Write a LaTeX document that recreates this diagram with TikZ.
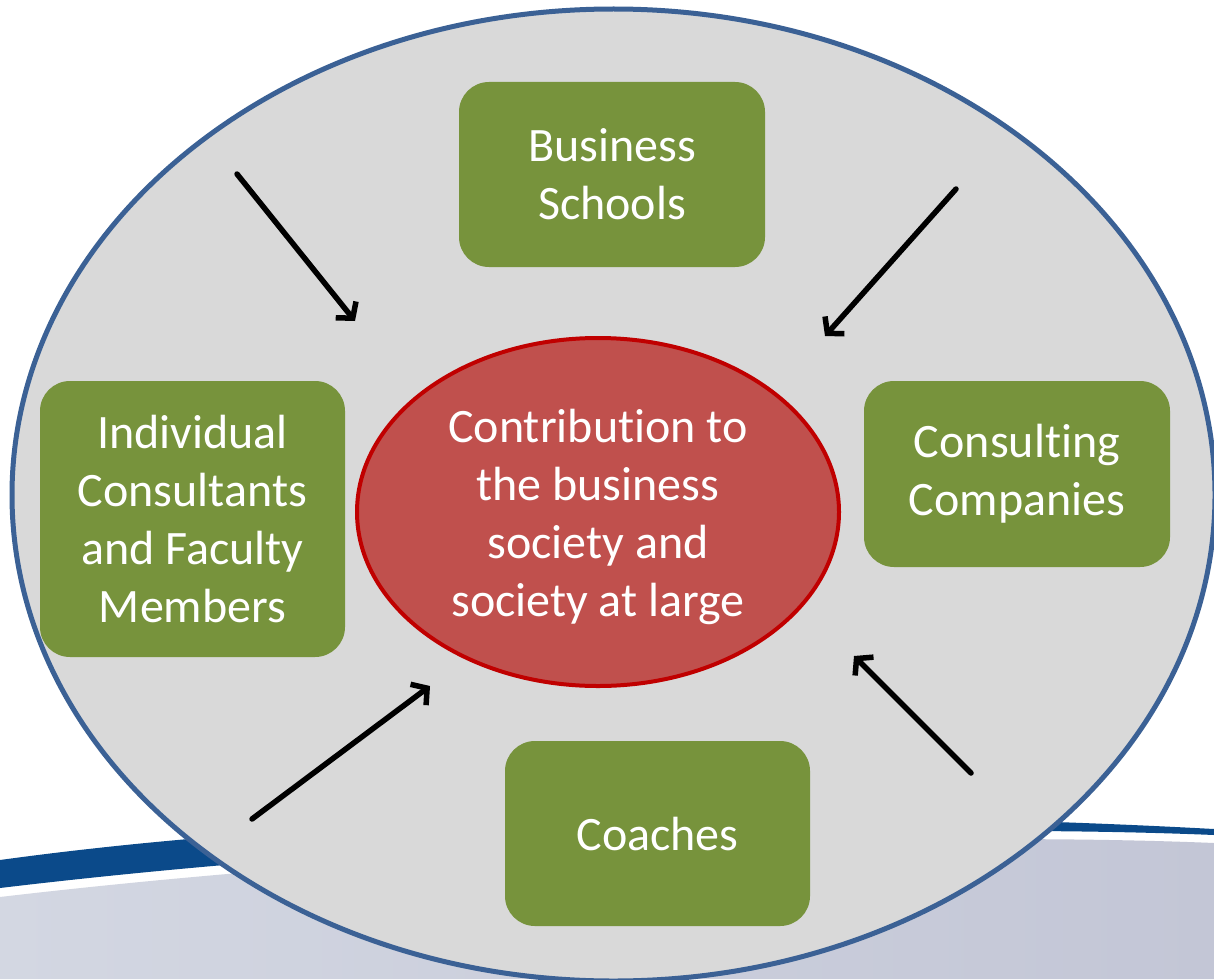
\documentclass[tikz,border=0pt]{standalone}
\usepackage{fontspec}
\setmainfont[Ligatures=NoCommon]{Carlito}
\usetikzlibrary{arrows.meta,shapes.geometric}
\definecolor{bgblue}{HTML}{0B4A8A}
\definecolor{bggrayL}{HTML}{D3D7E2}
\definecolor{bggrayR}{HTML}{C3C6D6}
\definecolor{outerfill}{HTML}{D9D9D9}
\definecolor{outerline}{HTML}{3B6195}
\definecolor{boxgreen}{HTML}{77933C}
\definecolor{redfill}{HTML}{C0504D}
\definecolor{redline}{HTML}{C00000}
\tikzset{
  greenbox/.style={draw=none, fill=boxgreen, rounded corners=30pt, align=center,
    text=white, font=\fontsize{48}{58}\selectfont, inner sep=0pt},
  flowarrow/.style={draw=black, line width=5.5pt, line cap=round,
    -{Straight Barb[length=11pt,width=26pt,line width=5.5pt]}},
}
\begin{document}
\begin{tikzpicture}[x=1pt,y=-1pt]
\useasboundingbox (0,0) rectangle (1214,979);
\clip (0,0) rectangle (1214,979);
\fill[white] (0,0) rectangle (1214,979);
% background swoosh
\shade[left color=bggrayL, right color=bggrayR]
  (0,897) .. controls (400,850) and (900,830) .. (1214,843) -- (1214,979) -- (0,979) -- cycle;
\fill[bgblue]
  (0,860) .. controls (400,805) and (900,812) .. (1214,829)
  -- (1214,835) .. controls (900,822) and (400,840) .. (0,888) -- cycle;
% outer ellipse
\node[ellipse, draw=outerline, line width=5pt, fill=outerfill,
  minimum width=1203pt, minimum height=972pt, inner sep=0pt] (outer) at (613.5,495) {};
% boxes
\node[greenbox, minimum width=306pt, minimum height=185pt] (bs) at (612,174.5) {Business\\Schools};
\node[greenbox, minimum width=305pt, minimum height=276pt] (ic) at (192.5,519) {Individual\\Consultants\\and Faculty\\Members};
\node[greenbox, minimum width=306pt, minimum height=186pt] (cc) at (1017,474) {Consulting\\Companies};
\node[greenbox, minimum width=305pt, minimum height=185pt] (co) at (657.5,833.5) {Coaches};
% centre ellipse
\node[ellipse, draw=redline, line width=4pt, fill=redfill, minimum width=482pt,
  minimum height=348pt, inner sep=0pt] (ctr) at (598,512) {};
\node[align=center, text=white, inner sep=0pt,
  font=\fontsize{48}{58}\selectfont] (ctrtext) at (598,517)
  {Contribution to\\the business\\society and\\society at large};
% arrows
\coordinate (a1s) at (237,174); \coordinate (a1e) at (355,321);
\coordinate (a2s) at (956,189); \coordinate (a2e) at (825,336);
\coordinate (a3s) at (252,819); \coordinate (a3e) at (430,686);
\coordinate (a4s) at (971,773); \coordinate (a4e) at (854,656);
\draw[flowarrow] (a1s) -- (a1e);
\draw[flowarrow] (a2s) -- (a2e);
\draw[flowarrow] (a3s) -- (a3e);
\draw[flowarrow] (a4s) -- (a4e);
\end{tikzpicture}
\end{document}
